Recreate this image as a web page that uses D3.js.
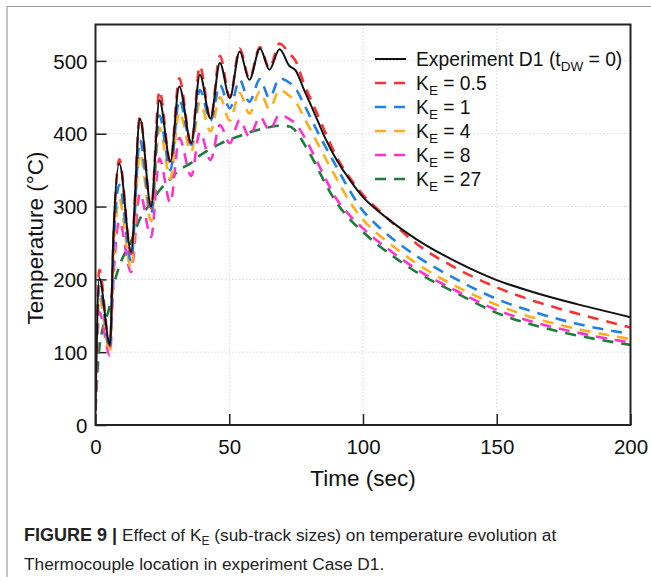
<!DOCTYPE html>
<html>
<head>
<meta charset="utf-8">
<script src="https://d3js.org/d3.v7.min.js"></script>
<style>
  body { margin: 0; background: #fff; }
  text { font-family: "Liberation Sans", Arial, Helvetica, sans-serif; }
</style>
</head>
<body>
<svg id="chart" width="651" height="581"></svg>
<script>
  // sample times (s): peaks / troughs of the layer passes, then cooling
  var time = [0, 1.4, 5.4, 6.7, 8.9, 13.3, 16.6, 20.8, 23.9, 28, 31.3, 35.8, 39, 43, 46.5, 50.2,
    53.9, 57.5, 61.5, 65, 68.8, 72.5, 74.8, 78, 82, 86, 90, 95, 100, 105, 110, 120, 135, 150, 165, 180, 200];

  var experiment = [20, 202, 110, 262, 359, 238, 421, 300, 446, 362, 465, 387, 481, 421, 497, 449,
    513, 474, 517, 488, 516, 493, 487, 460, 427, 393, 365, 337, 313, 296, 281, 255, 224, 199, 181, 166, 148];
  var ke05 = [20, 213, 108, 255, 365, 235, 424, 298, 459, 360, 476, 385, 493, 420, 507, 450,
    517, 476, 519, 490, 524, 510, 500, 468, 435, 401, 369, 340, 316, 298, 281, 249, 215, 189, 169, 153, 134];
  var ke1 = [20, 190, 105, 240, 330, 225, 391, 290, 425, 350, 447, 385, 460, 418, 467, 435,
    474, 444, 475, 449, 476, 470, 462, 440, 410, 382, 355, 322, 294, 275, 259, 232, 200, 173, 154, 139, 125];
  var ke4 = [20, 175, 100, 225, 310, 215, 373, 280, 408, 338, 430, 375, 443, 403, 450, 418,
    456, 428, 458, 434, 460, 452, 444, 422, 394, 366, 339, 307, 282, 264, 249, 222, 190, 165, 146, 132, 118];
  var ke8 = [20, 155, 95, 200, 280, 210, 318, 258, 366, 305, 394, 342, 402, 364, 412, 387,
    419, 396, 423, 405, 426, 420, 414, 396, 368, 338, 311, 288, 270, 254, 240, 214, 184, 158, 140, 127, 113];
  var ke27 = [20, 105, 165, 190, 218, 252, 283, 305, 322, 338, 350, 360, 370, 379, 386, 392,
    397, 402, 406, 409, 411, 410, 404, 386, 360, 331, 306, 283, 265, 249, 235, 210, 181, 154, 136, 123, 110];

  var seriesNames = ["Experiment D1", "K_E = 0.5", "K_E = 1", "K_E = 4", "K_E = 8", "K_E = 27"];
  var xTicks = [0, 50, 100, 150, 200];
  var yTicks = [0, 100, 200, 300, 400, 500];

  var series = [
    { name: seriesNames[0], values: experiment, color: "#111", dash: null, w: 2 },
    { name: seriesNames[1], values: ke05, color: "#ff3030", dash: "11,8", w: 2.6 },
    { name: seriesNames[2], values: ke1, color: "#1f80ea", dash: "11,8", w: 2.6 },
    { name: seriesNames[3], values: ke4, color: "#ffad1a", dash: "11,8", w: 2.6 },
    { name: seriesNames[4], values: ke8, color: "#ff33cc", dash: "11,8", w: 2.6 },
    { name: seriesNames[5], values: ke27, color: "#1a7d3a", dash: "11,8", w: 2.6 }
  ];

  var svg = d3.select("#chart");
  var pL = 95.5, pR = 630.5, pT = 24.5, pB = 425;

  var x = d3.scaleLinear().domain([0, 200]).range([pL, pR]);
  var y = d3.scaleLinear().domain([0, 550]).range([pB, pT]);

  // figure card border (top + left)
  svg.append("path").attr("d", "M7,577V6.5H651").attr("fill", "none")
    .attr("stroke", "#9a9a9a").attr("stroke-width", 1.2);

  // grid
  var grid = svg.append("g");
  grid.selectAll(".gx").data(xTicks.slice(1, -1)).enter().append("line")
    .attr("x1", d => x(d)).attr("x2", d => x(d)).attr("y1", pT).attr("y2", pB)
    .attr("stroke", "#d8d8d8").attr("stroke-dasharray", "1.5,2");
  grid.selectAll(".gy").data(yTicks.slice(1)).enter().append("line")
    .attr("x1", pL).attr("x2", pR).attr("y1", d => y(d)).attr("y2", d => y(d))
    .attr("stroke", "#d8d8d8").attr("stroke-dasharray", "1.5,2");

  // axes
  var xAxis = svg.append("g").attr("transform", "translate(0," + pB + ")")
    .call(d3.axisBottom(x).tickValues(xTicks).tickSizeInner(-11).tickSizeOuter(0).tickPadding(10));
  var yAxis = svg.append("g").attr("transform", "translate(" + pL + ",0)")
    .call(d3.axisLeft(y).tickValues(yTicks).tickSizeInner(-11).tickSizeOuter(0).tickPadding(8));
  [xAxis, yAxis].forEach(function(a) {
    a.select(".domain").remove();
    a.selectAll(".tick line").attr("stroke", "#222").attr("stroke-width", 1.5);
    a.selectAll("text").attr("fill", "#111").style("font-size", "20.5px");
  });
  xAxis.selectAll("text").attr("dy", "0.95em");
  yAxis.selectAll("text").attr("dy", "0.35em");

  // lines
  var line = d3.line()
    .x((d, i) => x(time[i]))
    .y(d => y(d))
    .curve(d3.curveMonotoneX);

  svg.append("clipPath").attr("id", "clip").append("rect")
    .attr("x", pL).attr("y", pT).attr("width", pR - pL).attr("height", pB - pT);

  var plot = svg.append("g").attr("clip-path", "url(#clip)");
  series.slice().reverse().forEach(function(s) {
    plot.append("path")
      .attr("d", line(s.values))
      .attr("fill", "none")
      .attr("stroke", s.color)
      .attr("stroke-width", s.w)
      .attr("stroke-dasharray", s.dash);
  });

  // frame
  svg.append("rect").attr("x", pL).attr("y", pT).attr("width", pR - pL).attr("height", pB - pT)
    .attr("fill", "none").attr("stroke", "#222").attr("stroke-width", 2);

  // axis titles
  svg.append("text").attr("x", (pL + pR) / 2).attr("y", 486).attr("text-anchor", "middle")
    .style("font-size", "22.5px").attr("fill", "#111").text("Time (sec)");
  svg.append("text").attr("transform", "translate(43,238) rotate(-90)").attr("text-anchor", "middle")
    .style("font-size", "22.5px").attr("fill", "#111").text("Temperature (°C)");

  // legend
  var lg = svg.append("g");
  series.forEach(function(s, i) {
    var ly = 59 + i * 24;
    lg.append("line").attr("x1", 375).attr("x2", 406).attr("y1", ly).attr("y2", ly)
      .attr("stroke", s.color).attr("stroke-width", s.w).attr("stroke-dasharray", s.dash);
    var t = lg.append("text").attr("x", 416).attr("y", ly + 7).style("font-size", "19.3px").attr("fill", "#111");
    if (i === 0) {
      t.append("tspan").text("Experiment D1 (t");
      t.append("tspan").attr("dy", 5).style("font-size", "13.5px").text("DW");
      t.append("tspan").attr("dy", -5).text(" = 0)");
    } else {
      var parts = s.name.split("_E");
      t.append("tspan").text(parts[0]);
      t.append("tspan").attr("dy", 5).style("font-size", "13.5px").text("E");
      t.append("tspan").attr("dy", -5).text(parts[1]);
    }
  });

  // caption
  var cap = svg.append("g").style("font-size", "17.3px").attr("fill", "#222");
  var c1 = cap.append("text").attr("x", 24).attr("y", 541);
  c1.append("tspan").style("font-weight", "bold").style("font-size", "18px").text("FIGURE 9 | ");
  c1.append("tspan").text("Effect of K");
  c1.append("tspan").attr("dy", 4).style("font-size", "12px").text("E");
  c1.append("tspan").attr("dy", -4).text(" (sub-track sizes) on temperature evolution at");
  cap.append("text").attr("x", 24).attr("y", 570).text("Thermocouple location in experiment Case D1.");
</script>
</body>
</html>
